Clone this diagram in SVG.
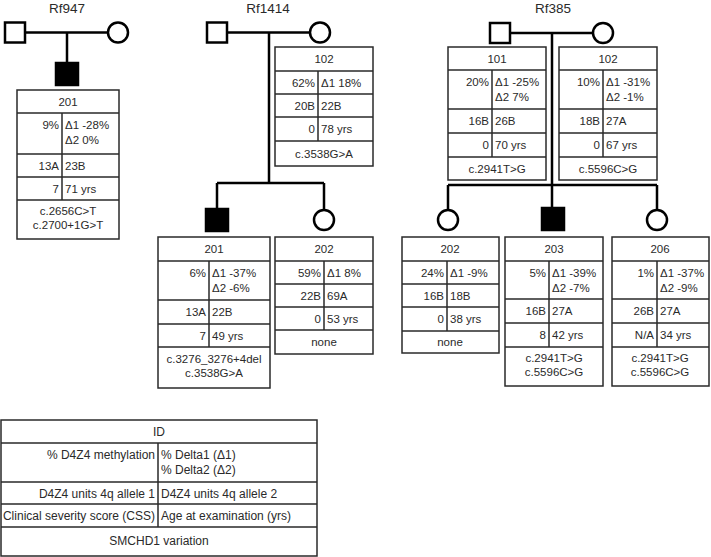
<svg xmlns="http://www.w3.org/2000/svg" width="711" height="557" viewBox="0 0 711 557">
<style>
text{font-family:"Liberation Sans",Arial,sans-serif;font-size:11.5px;fill:#2a2a2a}
.h{font-size:13.5px}
.lg{font-size:12px}
.c{text-anchor:middle}
.r{text-anchor:end}
.tb{fill:#fff;stroke:#2a2a2a;stroke-width:1.5}
.tl{fill:none;stroke:#2a2a2a;stroke-width:1.5}
.sym{fill:#fff;stroke:#000;stroke-width:2.5}
.aff{fill:#000;stroke:#000;stroke-width:2.5}
.ln{fill:none;stroke:#000;stroke-width:2.5}
</style>
<rect width="711" height="557" fill="#fff"/>

<g id="titles">
<text class="h c" x="67" y="13">Rf947</text>
<text class="h c" x="268" y="13">Rf1414</text>
<text class="h c" x="553" y="13">Rf385</text>
</g>

<g id="connectors">
<path class="ln" d="M25,32.5H108 M67,32.5V63"/>
<path class="ln" d="M227,32.5H310 M269,32.5V183 M217,183H324 M217,183V209 M324,183V210"/>
<path class="ln" d="M510,33H593 M552,33V185 M448,185H657 M448,185V210 M552,185V208 M657,185V210"/>
</g>

<g id="rf947-101"><rect class="sym" x="5" y="22.5" width="20" height="20"/></g>
<g id="rf947-102"><circle class="sym" cx="118" cy="32.5" r="10"/></g>
<g id="rf947-201">
<rect class="aff" x="56" y="63" width="22" height="22"/>
<rect class="tb" x="17" y="90" width="102" height="149"/>
<path class="tl" d="M17,113H119 M17,154H119 M17,177H119 M17,200H119 M62,113V200"/>
<text class="c" x="68" y="106">201</text>
<text class="r" x="59" y="129">9%</text>
<text x="65" y="129">Δ1 -28%</text>
<text x="65" y="144">Δ2 0%</text>
<text class="r" x="59" y="170">13A</text><text x="65" y="170">23B</text>
<text class="r" x="59" y="193">7</text><text x="65" y="193">71 yrs</text>
<text class="c" x="68" y="215">c.2656C&gt;T</text>
<text class="c" x="68" y="229">c.2700+1G&gt;T</text>
</g>

<g id="rf1414-101"><rect class="sym" x="207" y="22.5" width="20" height="20"/></g>
<g id="rf1414-102">
<circle class="sym" cx="320" cy="32.5" r="10"/>
<rect class="tb" x="275" y="47" width="98" height="119"/>
<path class="tl" d="M275,71H373 M275,94H373 M275,117H373 M275,141H373 M318,71V141"/>
<text class="c" x="324" y="63">102</text>
<text class="r" x="315" y="87">62%</text><text x="321" y="87">Δ1 18%</text>
<text class="r" x="315" y="110">20B</text><text x="321" y="110">22B</text>
<text class="r" x="315" y="133">0</text><text x="321" y="133">78 yrs</text>
<text class="c" x="324" y="158">c.3538G&gt;A</text>
</g>
<g id="rf1414-201">
<rect class="aff" x="206" y="209" width="22" height="22"/>
<rect class="tb" x="158" y="237" width="112" height="151"/>
<path class="tl" d="M158,261H270 M158,300H270 M158,324H270 M158,347H270 M209,261V347"/>
<text class="c" x="214" y="253">201</text>
<text class="r" x="206" y="277">6%</text>
<text x="212" y="277">Δ1 -37%</text>
<text x="212" y="292">Δ2 -6%</text>
<text class="r" x="206" y="316">13A</text><text x="212" y="316">22B</text>
<text class="r" x="206" y="340">7</text><text x="212" y="340">49 yrs</text>
<text class="c" x="214" y="363">c.3276_3276+4del</text>
<text class="c" x="214" y="377">c.3538G&gt;A</text>
</g>
<g id="rf1414-202">
<circle class="sym" cx="324" cy="220" r="10"/>
<rect class="tb" x="275" y="237" width="98" height="117"/>
<path class="tl" d="M275,261H373 M275,284H373 M275,307H373 M275,330H373 M324,261V330"/>
<text class="c" x="324" y="253">202</text>
<text class="r" x="321" y="277">59%</text><text x="327" y="277">Δ1 8%</text>
<text class="r" x="321" y="300">22B</text><text x="327" y="300">69A</text>
<text class="r" x="321" y="323">0</text><text x="327" y="323">53 yrs</text>
<text class="c" x="324" y="346">none</text>
</g>

<g id="rf385-101">
<rect class="sym" x="490" y="23" width="20" height="20"/>
<rect class="tb" x="448" y="47" width="98" height="133"/>
<path class="tl" d="M448,70H546 M448,109H546 M448,133H546 M448,157H546 M492,70V157"/>
<text class="c" x="497" y="63">101</text>
<text class="r" x="489" y="86">20%</text>
<text x="495" y="86">Δ1 -25%</text>
<text x="495" y="101">Δ2 7%</text>
<text class="r" x="489" y="125">16B</text><text x="495" y="125">26B</text>
<text class="r" x="489" y="149">0</text><text x="495" y="149">70 yrs</text>
<text class="c" x="497" y="173">c.2941T&gt;G</text>
</g>
<g id="rf385-102">
<circle class="sym" cx="603" cy="33" r="10"/>
<rect class="tb" x="559" y="47" width="98" height="133"/>
<path class="tl" d="M559,70H657 M559,109H657 M559,133H657 M559,157H657 M603,70V157"/>
<text class="c" x="608" y="63">102</text>
<text class="r" x="600" y="86">10%</text>
<text x="606" y="86">Δ1 -31%</text>
<text x="606" y="101">Δ2 -1%</text>
<text class="r" x="600" y="125">18B</text><text x="606" y="125">27A</text>
<text class="r" x="600" y="149">0</text><text x="606" y="149">67 yrs</text>
<text class="c" x="608" y="173">c.5596C&gt;G</text>
</g>
<g id="rf385-202">
<circle class="sym" cx="448" cy="220" r="10"/>
<rect class="tb" x="402" y="237" width="97" height="116"/>
<path class="tl" d="M402,261H499 M402,284H499 M402,307H499 M402,331H499 M447,261V331"/>
<text class="c" x="450" y="253">202</text>
<text class="r" x="444" y="277">24%</text><text x="450" y="277">Δ1 -9%</text>
<text class="r" x="444" y="300">16B</text><text x="450" y="300">18B</text>
<text class="r" x="444" y="323">0</text><text x="450" y="323">38 yrs</text>
<text class="c" x="450" y="346">none</text>
</g>
<g id="rf385-203">
<rect class="aff" x="542" y="208" width="22" height="22"/>
<rect class="tb" x="505" y="237" width="98" height="149"/>
<path class="tl" d="M505,261H603 M505,299H603 M505,323H603 M505,347H603 M549,261V347"/>
<text class="c" x="554" y="253">203</text>
<text class="r" x="546" y="277">5%</text>
<text x="552" y="277">Δ1 -39%</text>
<text x="552" y="292">Δ2 -7%</text>
<text class="r" x="546" y="315">16B</text><text x="552" y="315">27A</text>
<text class="r" x="546" y="339">8</text><text x="552" y="339">42 yrs</text>
<text class="c" x="554" y="362">c.2941T&gt;G</text>
<text class="c" x="554" y="376">c.5596C&gt;G</text>
</g>
<g id="rf385-206">
<circle class="sym" cx="657" cy="220" r="10"/>
<rect class="tb" x="612" y="237" width="97" height="149"/>
<path class="tl" d="M612,261H709 M612,299H709 M612,323H709 M612,347H709 M657,261V347"/>
<text class="c" x="660" y="253">206</text>
<text class="r" x="654" y="277">1%</text>
<text x="660" y="277">Δ1 -37%</text>
<text x="660" y="292">Δ2 -9%</text>
<text class="r" x="654" y="315">26B</text><text x="660" y="315">27A</text>
<text class="r" x="654" y="339">N/A</text><text x="660" y="339">34 yrs</text>
<text class="c" x="660" y="362">c.2941T&gt;G</text>
<text class="c" x="660" y="376">c.5596C&gt;G</text>
</g>

<g id="legend">
<rect class="tb" x="1" y="420" width="316" height="136"/>
<path class="tl" d="M1,443H317 M1,482H317 M1,504H317 M1,527H317 M158,443V527"/>
<text class="lg c" x="159" y="436">ID</text>
<text class="lg r" x="155" y="459">% D4Z4 methylation</text>
<text class="lg" x="161" y="459">% Delta1 (Δ1)</text>
<text class="lg" x="161" y="474">% Delta2 (Δ2)</text>
<text class="lg r" x="155" y="498">D4Z4 units 4q allele 1</text>
<text class="lg" x="161" y="498">D4Z4 units 4q allele 2</text>
<text class="lg r" x="155" y="520">Clinical severity score (CSS)</text>
<text class="lg" x="161" y="520">Age at examination (yrs)</text>
<text class="lg c" x="159" y="545">SMCHD1 variation</text>
</g>
</svg>
